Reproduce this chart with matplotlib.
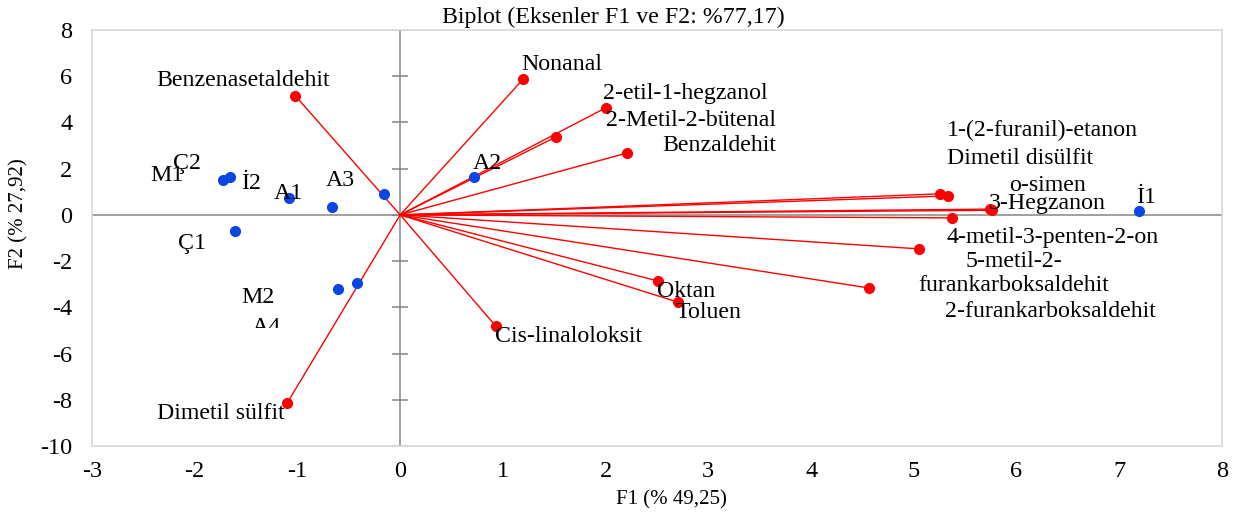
import matplotlib
matplotlib.use("Agg")
import matplotlib.pyplot as plt
from matplotlib.transforms import Bbox, TransformedBbox

# ---------------- data ----------------
obs_names = ["M1", "Ç2", "A1", "İ2", "A3", "Ç1", "M2", "A4", "A2", "İ1"]
obs_f1 = [-1.72, -1.66, -1.08, -0.66, -0.16, -1.61, -0.61, -0.42, 0.72, 7.19]
obs_f2 = [1.52, 1.64, 0.74, 0.35, 0.91, -0.69, -3.20, -2.94, 1.64, 0.17]

var_names = ["Benzenasetaldehit", "Nonanal", "2-etil-1-hegzanol", "2-Metil-2-bütenal",
             "Benzaldehit", "1-(2-furanil)-etanon", "Dimetil disülfit", "o-simen",
             "3-Hegzanon", "4-metil-3-penten-2-on", "5-metil-2-\nfurankarboksaldehit",
             "2-furankarboksaldehit", "Oktan", "Toluen", "Cis-linaloloksit", "Dimetil sülfit"]
var_f1 = [-1.02, 1.20, 2.00, 1.52, 2.21, 5.25, 5.33, 5.74, 5.76, 5.37, 5.05, 4.56,
          2.51, 2.70, 0.93, -1.10]
var_f2 = [5.15, 5.89, 4.63, 3.38, 2.68, 0.91, 0.82, 0.25, 0.20, -0.13, -1.47, -3.16,
          -2.86, -3.77, -4.81, -8.14]

xticks = list(range(-3, 9))
yticks = list(range(-10, 9, 2))
title = "Biplot (Eksenler F1 ve F2: %77,17)"
xlabel = "F1 (% 49,25)"
ylabel = "F2 (% 27,92)"

# ---------------- layout (label positions, not data) ----------------
obs_label_pos = {"M1": (-2.27, 1.69), "Ç2": (-2.08, 2.22), "A1": (-1.09, 0.91),
                 "İ2": (-1.45, 1.34), "A3": (-0.58, 1.47), "Ç1": (-2.03, -1.25),
                 "M2": (-1.38, -3.59), "A2": (0.85, 2.21), "İ1": (7.26, 0.74)}
var_label_pos = [(-1.53, 5.80), (1.57, 6.49), (2.78, 5.24), (2.83, 4.07), (3.11, 2.99),
                 (6.25, 3.64), (6.03, 2.42), (6.30, 1.26), (6.30, 0.48), (6.35, -1.00),
                 (5.97, -2.53), (6.33, -4.16), (2.78, -3.33), (3.00, -4.24), (1.64, -5.28),
                 (-1.75, -8.61)]

plt.rcParams['font.family'] = ['Liberation Serif', 'DejaVu Serif']
plt.rcParams['axes.unicode_minus'] = False

W, H = 1238, 520
fig = plt.figure(figsize=(W / 100, H / 100), dpi=100)
ax = fig.add_axes([92 / W, 1 - 446 / H, (1222 - 92) / W, (446 - 30) / H])

ax.set_xlim(-3, 8)
ax.set_ylim(-10, 8)
ax.set_xticks(xticks)
ax.set_yticks(yticks)
ax.tick_params(length=0, labelsize=17.5, pad=11)
ax.tick_params(axis='y', pad=14)
for s in ax.spines.values():
    s.set_color('#d9d9d9')
    s.set_linewidth(1.2)

# axes through origin
ax.axhline(0, color='#868686', lw=1.1, zorder=1)
ax.axvline(0, color='#868686', lw=1.1, zorder=1)
ax.hlines(yticks, -0.075, 0.075, color='#868686', lw=1.1, zorder=1)

# variable vectors
for x, y in zip(var_f1, var_f2):
    ax.plot([0, x], [0, y], color='#ff0000', lw=1.0, zorder=2)
ax.plot(var_f1, var_f2, 'o', color='#ff0000', ms=7, zorder=3)

# observations
ax.plot(obs_f1, obs_f2, 'o', color='#0a46e6', ms=7, zorder=4)

fs = 17.2
for name, (lx, ly) in obs_label_pos.items():
    ax.text(lx, ly, name, ha='center', va='center', fontsize=fs, zorder=5)
# partially hidden label
t = ax.text(-1.30, -5.12, "A4", ha='center', va='baseline', fontsize=fs, zorder=5)
t.set_clip_box(TransformedBbox(Bbox([[0, 1 - 328 / H], [1, 1]]), fig.transFigure))
t.set_clip_on(True)

for name, (lx, ly) in zip(var_names, var_label_pos):
    ax.text(lx, ly, name, ha='center', va='center', fontsize=fs, zorder=5,
            linespacing=1.2, multialignment='center')

fig.text(613 / W, 1 - 17 / H, title, ha='center', va='center', fontsize=fs)
fig.text(671 / W, 1 - 500 / H, xlabel, ha='center', va='center', fontsize=15)
fig.text(19 / W, 1 - 214 / H, ylabel, ha='center', va='center', fontsize=15, rotation=90)

fig.savefig("out.png", dpi=100)
